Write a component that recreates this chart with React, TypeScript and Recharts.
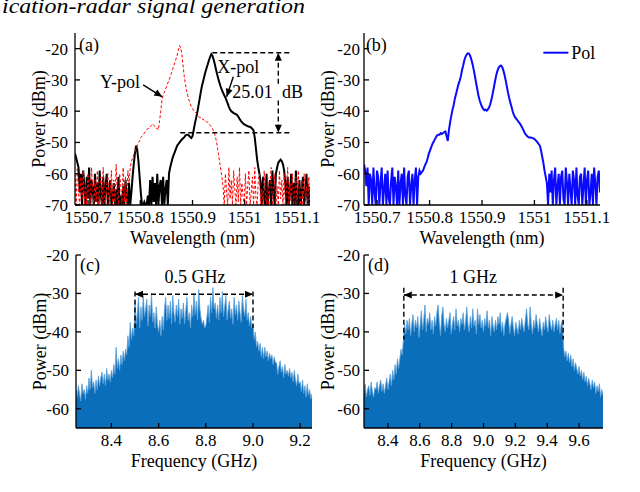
import React from 'react'
import { ComposedChart, Line, Area, XAxis, YAxis, ReferenceLine, ReferenceDot } from 'recharts'

const SERIF = '"Liberation Serif", "Times New Roman", Times, serif'

// optical spectra (a), (b): one sample every 2.25 pm from 1550.675 nm
const WL_START = 1550.675
const WL_STEP = 0.00225

const xPolDbm = [
  -53.5, -55, -56.5, -58, -66, -60, -70, -59, -64, -70,
  -61, -68, -58, -70, -62, -65, -70, -60, -69, -63,
  -70, -59, -67, -70, -61, -70, -64, -60, -70, -66,
  -62, -70, -68, -63, -70, -65, -70, -61, -70, -67,
  -70, -64, -70, -62, -68, -70, -63, -70, -66, -61,
  -57, -53.5, -51, -52.5, -56, -61, -66, -70, -70, -69,
  -70, -70, -67, -70, -62, -70, -61, -69, -63, -70,
  -60, -70, -64, -62, -70, -61, -70, -65, -62, -70,
  -60, -58, -56.5, -55, -54, -53, -52, -51, -50.5, -50,
  -49.5, -49, -48.7, -48.3, -47.8, -47.5, -47.5, -47.8, -48.3, -48.6,
  -48, -46, -44, -42.3, -40.6, -38.4, -36.2, -34, -32, -30.5,
  -29, -27.5, -26.2, -25, -23.7, -22.6, -21.8, -22.3, -23.5, -25,
  -26.7, -28.3, -29.7, -31, -32.2, -33.2, -34.1, -34.9, -35.6, -36.6,
  -37.6, -38.6, -39.5, -40, -40.3, -40.6, -40.8, -41, -41.2, -41.8,
  -42.4, -43, -43.5, -43.9, -44.2, -44.4, -44.6, -44.8, -45, -45,
  -45.3, -45.7, -46.2, -48.5, -52, -55.5, -58, -60, -63, -70,
  -61, -68, -70, -60, -70, -65, -62, -70, -59, -66,
  -70, -60, -58, -56.5, -56, -55.5, -56, -57, -59, -63,
  -70, -61, -70, -66, -60, -70, -63, -70, -59, -68,
  -70, -62, -70, -65, -61, -70, -67, -60, -70, -64,
  -70,
]

const yPolDbm = [
  -60, -70, -58, -66, -70, -61, -68, -59, -70, -63,
  -70, -60, -67, -70, -58, -64, -70, -62, -69, -59,
  -70, -65, -61, -70, -58, -68, -70, -63, -60, -70,
  -66, -59, -70, -62, -70, -57, -67, -70, -60, -64,
  -70, -58, -69, -61, -70, -59, -63, -58, -56, -55,
  -54, -53, -52, -51, -50, -49.5, -48.5, -48, -47.5, -47,
  -46.5, -46, -45.5, -45.5, -45, -44.5, -44, -44.5, -45, -45.5,
  -45.5, -46, -43, -40, -36.5, -35, -34, -33, -32, -31,
  -30, -29, -28, -26.7, -25.5, -24.5, -23.3, -22, -20.5, -19,
  -19.8, -22, -25.5, -29, -31.5, -33.5, -35, -36.5, -37.5, -38.5,
  -39.2, -39.8, -40.2, -40.6, -41, -41.5, -42, -42, -42.5, -42.5,
  -43, -43, -43.5, -43.5, -44, -44.5, -45, -45.5, -46.5, -47.5,
  -49, -51, -53.5, -56, -58.5, -61, -64, -70, -60, -66,
  -70, -58, -68, -62, -70, -59, -65, -70, -61, -69,
  -58, -70, -63, -67, -70, -60, -70, -64, -59, -70,
  -66, -61, -70, -58, -68, -70, -62, -60, -70, -65,
  -70, -59, -67, -70, -61, -70, -63, -58, -70, -66,
  -60, -70, -64, -70, -59, -68, -62, -70, -60, -70,
  -65, -58, -70, -63, -69, -60, -70, -66, -61, -70,
  -59, -67, -70, -62, -70, -60, -68, -64, -70, -61,
  -70,
]

const polDbm = [
  -57, -59, -64, -58, -70, -60, -62, -70, -58, -66,
  -70, -59, -61, -70, -63, -58, -70, -65, -60, -70,
  -59, -68, -70, -62, -58, -70, -61, -64, -70, -59,
  -70, -63, -60, -70, -58, -67, -70, -61, -59, -70,
  -64, -60, -70, -62, -58, -70, -61, -59, -60, -59.5,
  -59, -58, -57, -56.3, -55, -53.5, -52.5, -51.5, -50.5, -49.8,
  -49, -48.3, -47.7, -47.5, -47.5, -47, -47.3, -47, -46.7, -46.5,
  -48, -49.5, -46, -43.5, -41.5, -39.5, -38, -36, -34.5, -33,
  -31.5, -30.3, -29, -27, -25.5, -23.8, -22.6, -21.9, -21.5, -21.6,
  -22.3, -23.5, -25, -26.8, -28.8, -31, -33, -35, -36.5, -37.7,
  -38.6, -39.3, -39.7, -39.5, -39.8, -39.4, -38.8, -37.8, -36.3, -34.5,
  -32.5, -30.5, -28.6, -27.2, -26.2, -25.6, -25.4, -25.8, -26.8, -28.3,
  -30, -32, -34, -35.7, -37.2, -38.6, -40, -41.2, -41.9, -42.4,
  -42.9, -43.4, -43.9, -44.5, -45.2, -46, -46.8, -47.4, -47.9, -48.2,
  -48.4, -48.4, -48.5, -48.6, -48.8, -49.1, -49.5, -50, -50.5, -51,
  -52.5, -54.5, -56.5, -59, -61, -63, -70, -60, -66, -59,
  -70, -62, -58, -70, -64, -60, -70, -61, -59, -68,
  -70, -58, -63, -70, -60, -65, -70, -59, -62, -70,
  -58, -67, -70, -61, -60, -70, -64, -58, -70, -62,
  -59, -70, -66, -60, -70, -58, -63, -70, -61, -59,
  -66,
]

// RF spectra (c): every 5 MHz from 8.25 GHz, (d): every 7.5 MHz from 8.25 GHz
const F05_START = 8.25
const F05_STEP = 0.005
const F1_START = 8.25
const F1_STEP = 0.0075

const rf05Dbm = [
  -55, -57, -54, -56, -58, -53.5, -56, -55, -57.5, -54,
  -56, -52, -55, -50, -54.5, -53, -56, -52.5, -55, -51.5,
  -54, -52, -50.5, -53.5, -51, -54, -49.5, -52.5, -51, -53,
  -50, -52, -48.5, -51, -44, -49.5, -47, -50, -46, -48.5,
  -45, -47.5, -44.5, -46, -41, -44, -37.5, -42, -39, -41,
  -32, -38, -35, -31, -39, -33.5, -37, -30.5, -36, -34,
  -31.5, -38.5, -33, -36, -30, -37.5, -35, -39, -33.5, -38,
  -40, -37, -41, -36, -39.5, -34, -31, -37, -33, -36.5,
  -32, -38, -30.5, -35, -37.5, -33, -36, -31.5, -38, -34,
  -36.5, -32.5, -38, -34.5, -31, -37, -35, -39, -33, -36,
  -30, -35.5, -32, -37, -29, -34, -36.5, -38, -37, -39,
  -38.5, -36, -33, -37.5, -31, -35, -28.5, -34, -32.5, -36.5,
  -33, -37, -31, -35, -29.5, -36, -33.5, -30.5, -37, -34,
  -32, -36.5, -34, -38, -31, -35.5, -33, -37, -32, -35,
  -37.5, -30.5, -34, -36, -31.5, -37, -35, -38.5, -36, -39,
  -38, -42, -40, -44, -42.5, -45, -43, -46.5, -44, -47,
  -44, -46.5, -45, -47.5, -45.5, -47, -46, -48.5, -46.5, -48,
  -48, -51, -49, -47.5, -50.5, -49, -52, -48.5, -51, -50,
  -51.5, -49.5, -52, -50.5, -53, -50, -52.5, -54, -51, -53.5,
  -53, -55.5, -52.5, -56, -54, -57, -53.5, -56.5, -55, -57.5,
  -56,
]

const rf1Dbm = [
  -56, -53.5, -57, -55, -54, -56.5, -53, -55.5, -57, -54.5,
  -55, -53, -56, -54, -52.5, -55.5, -53.5, -56, -54, -52,
  -55, -53, -51, -54, -50, -52.5, -48.5, -51, -47, -49.5,
  -47, -44.5, -46, -42, -38, -40.5, -37, -39.5, -36.5, -41,
  -38, -35.5, -40, -37, -39, -36, -41.5, -38, -34.5, -39.5,
  -37, -33, -40, -36.5, -38, -35, -39.5, -37, -40.5, -36,
  -38.5, -35, -33, -37.5, -41, -36, -33.5, -38, -40, -36.5,
  -39, -37, -35, -40.5, -38, -36, -39.5, -34, -38.5, -37,
  -40, -36.5, -38, -35, -39.5, -37.5, -33.5, -38, -40, -36,
  -39, -34, -38.5, -37, -40.5, -34, -38, -35.5, -39, -37,
  -40, -36.5, -38.5, -34.5, -39, -37, -41, -36, -38.5, -40,
  -37, -39.5, -36, -38, -35, -40, -37.5, -41, -38, -36.5,
  -35, -37, -40.5, -38, -36, -39, -41, -37.5, -39, -40.5,
  -37, -39.5, -36.5, -38.5, -40, -37, -34, -38, -39.5, -33.5,
  -38, -40.5, -37, -39, -35.5, -38, -40, -36.5, -39, -41,
  -37.5, -39.5, -36, -38.5, -40, -35.5, -38, -39.5, -37, -40,
  -38, -36.5, -39.5, -37, -40.5, -38, -37, -44, -46.5, -45,
  -47.5, -45.5, -48, -46, -49, -47, -50, -48, -49.5, -51,
  -49, -51.5, -50, -52.5, -50.5, -53, -51.5, -54, -52, -53.5,
  -55, -52.5, -54.5, -53, -56, -54, -55.5, -53.5, -57, -55,
  -56.5,
]

const wavelengthTicks = [1550.7, 1550.8, 1550.9, 1551, 1551.1]
const opticalPowerTicks = [-70, -60, -50, -40, -30, -20]
const freqTicks05 = [8.4, 8.6, 8.8, 9.0, 9.2]
const freqTicks1 = [8.4, 8.6, 8.8, 9.0, 9.2, 9.4, 9.6]
const rfPowerTicks = [-60, -50, -40, -30, -20]

const opticalRows = xPolDbm.map((v, i) => ({
  x: Number((WL_START + i * WL_STEP).toFixed(5)),
  xPol: v,
  yPol: yPolDbm[i],
  pol: polDbm[i],
}))
const rf05Rows = rf05Dbm.map((v, i) => ({ x: Number((F05_START + i * F05_STEP).toFixed(4)), p: v }))
const rf1Rows = rf1Dbm.map((v, i) => ({ x: Number((F1_START + i * F1_STEP).toFixed(4)), p: v }))

const ax = { xAxisId: 'b', yAxisId: 'l' }

const textMark = (label: string, anchor: 'start' | 'middle' | 'end' = 'middle') => (p: any) => (
  <text x={p.cx} y={p.cy} textAnchor={anchor} dominantBaseline="central" fontFamily={SERIF} fontSize={18} fill="#000">
    {label}
  </text>
)

// line with filled arrow heads, drawn between the reference-line end points
const arrowShape = (bothEnds: boolean, dash?: string) => (p: any) => {
  const { x1, y1, x2, y2 } = p
  const a = Math.atan2(y2 - y1, x2 - x1)
  const head = (x: number, y: number, ang: number) => {
    const bx = x - 8 * Math.cos(ang)
    const by = y - 8 * Math.sin(ang)
    const s = 3.5 * Math.sin(ang)
    const c = 3.5 * Math.cos(ang)
    return `${x},${y} ${bx - s},${by + c} ${bx + s},${by - c}`
  }
  return (
    <g>
      <line x1={x1} y1={y1} x2={x2} y2={y2} stroke="#000" strokeWidth={1.4} strokeDasharray={dash} />
      <polygon points={head(x2, y2, a)} fill="#000" />
      {bothEnds && <polygon points={head(x1, y1, a + Math.PI)} fill="#000" />}
    </g>
  )
}

const xTitle = (text: string) => (props: any) => {
  const vb = props.viewBox
  return (
    <text x={vb.x + vb.width / 2} y={vb.y + 33} textAnchor="middle" dominantBaseline="central" fontSize={18} fontFamily={SERIF} fill="#000">
      {text}
    </text>
  )
}

const yTitle = (props: any) => {
  const vb = props.viewBox
  const x = vb.x + vb.width - 36
  const y = vb.y + vb.height / 2
  return (
    <text x={x} y={y} transform={`rotate(-90 ${x} ${y})`} textAnchor="middle" dominantBaseline="central" fontSize={18} fontFamily={SERIF} fill="#000">
      Power (dBm)
    </text>
  )
}

interface BoxOpts {
  xDomain: [number, number]
  xTicks: number[]
  xFmt: (v: number) => string
  yDomain: [number, number]
  yTicks: number[]
  yWidth: number
  yGap: number
  title: string
}

// four-sided MATLAB style box with inward ticks
function boxAxes(o: BoxOpts) {
  const line = { stroke: '#000', strokeWidth: 1.3 }
  const font = { fill: '#000', fontSize: 17, fontFamily: SERIF }
  return [
    <XAxis key="xb" xAxisId="b" dataKey="x" type="number" domain={o.xDomain} ticks={o.xTicks} interval={0}
      tickFormatter={o.xFmt} allowDataOverflow axisLine={line} tickLine={line} tickSize={-5} tickMargin={11}
      tick={font} height={45} label={xTitle(o.title)} />,
    <XAxis key="xt" xAxisId="t" orientation="top" type="number" domain={o.xDomain} ticks={o.xTicks} interval={0}
      allowDataOverflow axisLine={line} tickLine={line} tickSize={-5} tick={false} height={0} />,
    <YAxis key="yl" yAxisId="l" type="number" domain={o.yDomain} ticks={o.yTicks} interval={0} allowDataOverflow
      axisLine={line} tickLine={line} tickSize={-5} tickMargin={o.yGap} tick={font} width={o.yWidth} label={yTitle} />,
    <YAxis key="yr" yAxisId="r" orientation="right" type="number" domain={o.yDomain} ticks={o.yTicks} interval={0}
      allowDataOverflow axisLine={line} tickLine={line} tickSize={-5} tick={false} width={0} />,
  ]
}

const wlFmt = (v: number) => String(v)
const fFmt = (v: number) => v.toFixed(1)
const WL_DOMAIN: [number, number] = [1550.675, 1551.125]

function PanelA() {
  return (
    <ComposedChart width={320} height={250} data={opticalRows} margin={{ top: 33, right: 10, bottom: 0, left: 30 }}>
      {boxAxes({ xDomain: WL_DOMAIN, xTicks: wavelengthTicks, xFmt: wlFmt, yDomain: [-70, -15], yTicks: opticalPowerTicks, yWidth: 45, yGap: 12, title: 'Wavelength (nm)' })}
      <Line {...ax} dataKey="xPol" type="linear" stroke="#000" strokeWidth={2} dot={false} isAnimationActive={false} />
      <Line {...ax} dataKey="yPol" type="linear" stroke="#ff0000" strokeWidth={1} strokeDasharray="3 2" dot={false} isAnimationActive={false} />
      <ReferenceDot {...ax} x={1550.6827} y={-18.8} shape={textMark('(a)', 'start')} />
      <ReferenceDot {...ax} x={1550.7614} y={-30.7} shape={textMark('Y-pol')} />
      <ReferenceLine {...ax} segment={[{ x: 1550.8055, y: -31.6 }, { x: 1550.8421, y: -35.4 }]} shape={arrowShape(false)} />
      <ReferenceDot {...ax} x={1550.9877} y={-25.8} shape={textMark('X-pol')} />
      <ReferenceLine {...ax} segment={[{ x: 1550.9781, y: -29 }, { x: 1550.9655, y: -35.4 }]} shape={arrowShape(false)} />
      <ReferenceLine {...ax} segment={[{ x: 1550.9378, y: -21.3 }, { x: 1551.0881, y: -21.3 }]} stroke="#000" strokeWidth={1.4} strokeDasharray="5 3" />
      <ReferenceLine {...ax} segment={[{ x: 1550.8766, y: -46.9 }, { x: 1551.0881, y: -46.9 }]} stroke="#000" strokeWidth={1.4} strokeDasharray="5 3" />
      <ReferenceLine {...ax} segment={[{ x: 1551.0643, y: -31.2 }, { x: 1551.0643, y: -21.3 }]} shape={arrowShape(false, '5 3')} />
      <ReferenceLine {...ax} segment={[{ x: 1551.0643, y: -36.6 }, { x: 1551.0643, y: -46.9 }]} shape={arrowShape(false, '5 3')} />
      <ReferenceDot {...ax} x={1551.0539} y={-33.8} shape={textMark('25.01', 'end')} />
      <ReferenceDot {...ax} x={1551.0714} y={-33.8} shape={textMark('dB', 'start')} />
    </ComposedChart>
  )
}

function PanelB() {
  return (
    <ComposedChart width={340} height={250} data={opticalRows} margin={{ top: 33, right: 40, bottom: 0, left: 20 }}>
      {boxAxes({ xDomain: WL_DOMAIN, xTicks: wavelengthTicks, xFmt: wlFmt, yDomain: [-70, -15], yTicks: opticalPowerTicks, yWidth: 44, yGap: 9, title: 'Wavelength (nm)' })}
      <Line {...ax} dataKey="pol" type="linear" stroke="#0a0aff" strokeWidth={2} dot={false} isAnimationActive={false} />
      <ReferenceDot {...ax} x={1550.6786} y={-18.8} shape={textMark('(b)', 'start')} />
      <ReferenceLine {...ax} segment={[{ x: 1551.017, y: -21.3 }, { x: 1551.0647, y: -21.3 }]} stroke="#0a0aff" strokeWidth={2} />
      <ReferenceDot {...ax} x={1551.0701} y={-21.3} shape={textMark('Pol', 'start')} />
    </ComposedChart>
  )
}

function PanelC() {
  return (
    <ComposedChart width={320} height={233} data={rf05Rows} margin={{ top: 15, right: 8, bottom: 0, left: 31 }}>
      {boxAxes({ xDomain: [8.25, 9.25], xTicks: freqTicks05, xFmt: fFmt, yDomain: [-65, -20], yTicks: rfPowerTicks, yWidth: 45, yGap: 12, title: 'Frequency (GHz)' })}
      <Area {...ax} dataKey="p" type="linear" baseValue="dataMin" stroke="#5a9fd8" strokeWidth={0.8} fill="#0b6ebb" fillOpacity={1} isAnimationActive={false} />
      <ReferenceDot {...ax} x={8.267} y={-22.6} shape={textMark('(c)', 'start')} />
      <ReferenceDot {...ax} x={8.754} y={-25.6} shape={textMark('0.5 GHz')} />
      <ReferenceLine {...ax} segment={[{ x: 8.5, y: -30.2 }, { x: 9.0, y: -30.2 }]} shape={arrowShape(true, '5 3')} />
      <ReferenceLine {...ax} segment={[{ x: 8.5, y: -29.5 }, { x: 8.5, y: -39 }]} stroke="#000" strokeWidth={1.4} strokeDasharray="5 3" />
      <ReferenceLine {...ax} segment={[{ x: 9.0, y: -29.5 }, { x: 9.0, y: -39 }]} stroke="#000" strokeWidth={1.4} strokeDasharray="5 3" />
    </ComposedChart>
  )
}

function PanelD() {
  return (
    <ComposedChart width={340} height={233} data={rf1Rows} margin={{ top: 15, right: 37, bottom: 0, left: 20 }}>
      {boxAxes({ xDomain: [8.25, 9.75], xTicks: freqTicks1, xFmt: fFmt, yDomain: [-65, -20], yTicks: rfPowerTicks, yWidth: 44, yGap: 9, title: 'Frequency (GHz)' })}
      <Area {...ax} dataKey="p" type="linear" baseValue="dataMin" stroke="#5a9fd8" strokeWidth={0.8} fill="#0b6ebb" fillOpacity={1} isAnimationActive={false} />
      <ReferenceDot {...ax} x={8.275} y={-22.6} shape={textMark('(d)', 'start')} />
      <ReferenceDot {...ax} x={8.936} y={-25.6} shape={textMark('1 GHz')} />
      <ReferenceLine {...ax} segment={[{ x: 8.5, y: -30.4 }, { x: 9.5, y: -30.4 }]} shape={arrowShape(true, '5 3')} />
      <ReferenceLine {...ax} segment={[{ x: 8.5, y: -28.5 }, { x: 8.5, y: -42 }]} stroke="#000" strokeWidth={1.4} strokeDasharray="5 3" />
      <ReferenceLine {...ax} segment={[{ x: 9.5, y: -28.5 }, { x: 9.5, y: -42 }]} stroke="#000" strokeWidth={1.4} strokeDasharray="5 3" />
    </ComposedChart>
  )
}

export default function App() {
  return (
    <div style={{ position: 'absolute', left: 0, top: 0, width: 640, height: 492, background: '#fff', overflow: 'hidden' }}>
      <svg width={640} height={24} style={{ position: 'absolute', left: 0, top: 0 }}>
        <text x={2} y={13} fontFamily={SERIF} fontStyle="italic" fontSize={22} textLength={303} lengthAdjust="spacingAndGlyphs" fill="#000">
          ication-radar signal generation
        </text>
      </svg>
      <div style={{ position: 'absolute', left: 0, top: 0 }}>
        <PanelA />
      </div>
      <div style={{ position: 'absolute', left: 300, top: 0 }}>
        <PanelB />
      </div>
      <div style={{ position: 'absolute', left: 0, top: 240 }}>
        <PanelC />
      </div>
      <div style={{ position: 'absolute', left: 300, top: 240 }}>
        <PanelD />
      </div>
    </div>
  )
}
